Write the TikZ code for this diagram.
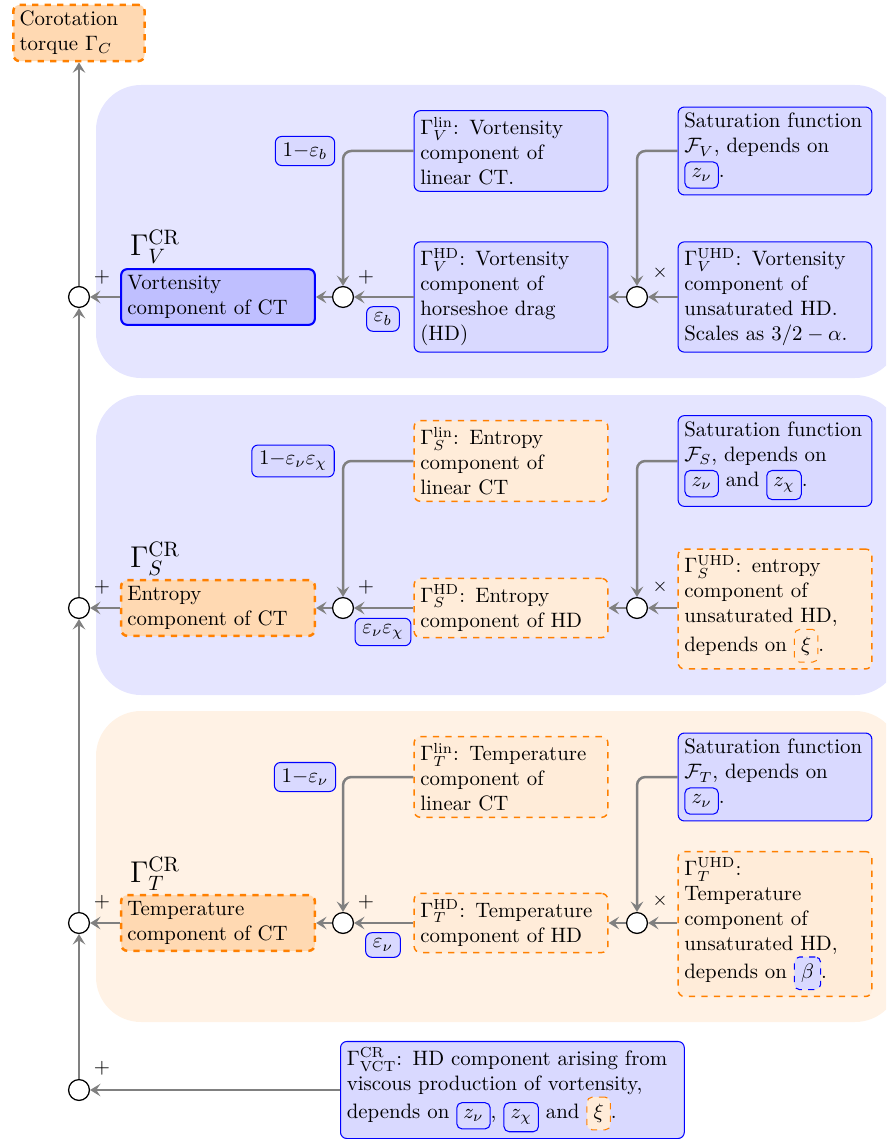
\documentclass[tikz,border=0pt]{standalone}
\usetikzlibrary{arrows.meta}
\newcommand{\inbx}[4]{\tikz[baseline=(ib.base)]\node[#3,draw=#1,fill=#2,line width=0.5pt,rounded corners=2.5pt,inner xsep=3.2pt,inner ysep=3.4pt,text width=,minimum width=0pt,minimum height=0pt,font=\normalsize](ib){$#4$};}
\newcommand{\znu}{\inbx{blue}{blue!15}{solid}{z_\nu}}
\newcommand{\zchi}{\inbx{blue}{blue!15}{solid}{z_\chi}}
\newcommand{\xib}{\inbx{orange}{orange!15}{dashed}{\xi}}
\newcommand{\betab}{\inbx{blue}{blue!15}{dashed}{\beta}}
\begin{document}
\begin{tikzpicture}[x=0.48pt,y=-0.48pt,
  conn/.style={draw=gray, line width=1.2pt, -{Stealth[length=5pt,width=6pt,inset=2pt]}, rounded corners=4pt},
  sumc/.style={circle, draw=black, fill=white, line width=0.6pt, minimum size=10pt, inner sep=0pt},
  bluebox/.style={draw=blue, fill=blue!15, line width=0.5pt, rounded corners=3pt, text width=87pt, inner sep=3pt, align=left},
  orbox/.style={draw=orange, dashed, fill=orange!15, line width=0.7pt, rounded corners=3pt, text width=87pt, inner sep=3pt, align=left},
  ctblue/.style={draw=blue, fill=blue!25, line width=1pt, rounded corners=3pt, text width=87pt, inner sep=3pt, align=left},
  ctorange/.style={draw=orange, dashed, fill=orange!30, line width=1.2pt, rounded corners=3pt, text width=87pt, inner sep=3pt, align=left},
  wbox/.style={draw=blue, fill=blue!15, line width=0.5pt, rounded corners=3pt, inner xsep=3.5pt, inner ysep=3pt},
  sgn/.style={inner sep=0pt},
  lbl/.style={font=\Large, inner sep=0pt}
]
\useasboundingbox (0,0) rectangle (886,1139);
\clip (0,0) rectangle (886,1139);

% panels
\fill[blue!10, rounded corners=21.6pt] (96,85) rectangle (900,378);
\fill[blue!10, rounded corners=21.6pt] (96,395) rectangle (900,695);
\fill[orange!10, rounded corners=21.6pt] (96,711) rectangle (900,1022);

% top box
\node[ctorange, text width=57pt] (corot) at (79,33) {Corotation\\torque $\Gamma_C$};

% summation circles on main line
\node[sumc] (c1a) at (79,297) {};
\node[sumc] (c2a) at (79,608) {};
\node[sumc] (c3a) at (79,923) {};
\node[sumc] (c4) at (79,1090) {};

% ---------- panel 1: vortensity
\node[lbl] (g1) at (155,247) {$\Gamma_V^{\mathrm{CR}}$};
\node[ctblue] (ct1) at (218,297) {Vortensity\\component of CT};
\node[sumc] (c1b) at (343,297) {};
\node[bluebox] (lin1) at (511,151) {$\Gamma_V^{\mathrm{lin}}$: Vortensity\\component of\\linear CT.};
\node[bluebox] (hd1) at (511,297) {$\Gamma_V^{\mathrm{HD}}$: Vortensity\\component of\\horseshoe drag\\(HD)};
\node[sumc] (c1c) at (637,297) {};
\node[bluebox] (sat1) at (775,151) {Saturation function\\$\mathcal{F}_V$, depends on\\\znu.};
\node[bluebox] (uhd1) at (775,297) {$\Gamma_V^{\mathrm{UHD}}$: Vortensity\\component of\\unsaturated HD.\\Scales as $3/2-\alpha$.};
\node[wbox] (w1a) at (305,151) {$1{-}\varepsilon_b$};
\node[wbox] (w1b) at (383,319) {$\varepsilon_b$};
\node[sgn] (p1a) at (102,277) {$+$};
\node[sgn] (p1b) at (366,277) {$+$};
\node[sgn, font=\small] (x1) at (660,273) {$\times$};

\draw[conn] (lin1.west) -| (c1b.north);
\draw[conn] (hd1.west) -- (c1b.east);
\draw[conn] (c1b.west) -- (ct1.east);
\draw[conn] (ct1.west) -- (c1a.east);
\draw[conn] (sat1.west) -| (c1c.north);
\draw[conn] (uhd1.west) -- (c1c.east);
\draw[conn] (c1c.west) -- (hd1.east);

% ---------- panel 2: entropy
\node[lbl] (g2) at (155,559) {$\Gamma_S^{\mathrm{CR}}$};
\node[ctorange] (ct2) at (218,608) {Entropy\\component of CT};
\node[sumc] (c2b) at (343,608) {};
\node[orbox] (lin2) at (511,461) {$\Gamma_S^{\mathrm{lin}}$: Entropy\\component of\\linear CT};
\node[orbox] (hd2) at (511,608) {$\Gamma_S^{\mathrm{HD}}$: Entropy\\component of HD};
\node[sumc] (c2c) at (637,608) {};
\node[bluebox] (sat2) at (775,461) {Saturation function\\$\mathcal{F}_S$, depends on\\\znu{} and \zchi.};
\node[orbox] (uhd2) at (775,609) {$\Gamma_S^{\mathrm{UHD}}$: entropy\\component of\\unsaturated HD,\\depends on \xib.};
\node[wbox] (w2a) at (293,461) {$1{-}\varepsilon_\nu\varepsilon_\chi$};
\node[wbox] (w2b) at (383,632) {$\varepsilon_\nu\varepsilon_\chi$};
\node[sgn] (p2a) at (102,587) {$+$};
\node[sgn] (p2b) at (366,587) {$+$};
\node[sgn, font=\small] (x2) at (660,587) {$\times$};

\draw[conn] (lin2.west) -| (c2b.north);
\draw[conn] (hd2.west) -- (c2b.east);
\draw[conn] (c2b.west) -- (ct2.east);
\draw[conn] (ct2.west) -- (c2a.east);
\draw[conn] (sat2.west) -| (c2c.north);
\draw[conn] (uhd2.west |- c2c) -- (c2c.east);
\draw[conn] (c2c.west) -- (hd2.east);

% ---------- panel 3: temperature
\node[lbl] (g3) at (155,874) {$\Gamma_T^{\mathrm{CR}}$};
\node[ctorange] (ct3) at (218,923) {Temperature\\component of CT};
\node[sumc] (c3b) at (343,923) {};
\node[orbox] (lin3) at (511,777) {$\Gamma_T^{\mathrm{lin}}$: Temperature\\component of\\linear CT};
\node[orbox] (hd3) at (511,923) {$\Gamma_T^{\mathrm{HD}}$: Temperature\\component of HD};
\node[sumc] (c3c) at (637,923) {};
\node[bluebox] (sat3) at (775,777) {Saturation function\\$\mathcal{F}_T$, depends on\\\znu.};
\node[orbox] (uhd3) at (775,924) {$\Gamma_T^{\mathrm{UHD}}$:\\Temperature\\component of\\unsaturated HD,\\depends on \betab.};
\node[wbox] (w3a) at (305,777) {$1{-}\varepsilon_\nu$};
\node[wbox] (w3b) at (383,945) {$\varepsilon_\nu$};
\node[sgn] (p3a) at (102,902) {$+$};
\node[sgn] (p3b) at (366,902) {$+$};
\node[sgn, font=\small] (x3) at (660,901) {$\times$};

\draw[conn] (lin3.west) -| (c3b.north);
\draw[conn] (hd3.west) -- (c3b.east);
\draw[conn] (c3b.west) -- (ct3.east);
\draw[conn] (ct3.west) -- (c3a.east);
\draw[conn] (sat3.west) -| (c3c.north);
\draw[conn] (uhd3.west |- c3c) -- (c3c.east);
\draw[conn] (c3c.west) -- (hd3.east);

% ---------- bottom: VCT
\node[bluebox, text width=159pt, anchor=west] (vct) at (340,1090) {$\Gamma_{\mathrm{VCT}}^{\mathrm{CR}}$: HD component arising from\\viscous production of vortensity,\\depends on \znu, \zchi{} and \xib.};
\node[sgn] (p4) at (102,1068) {$+$};
\draw[conn] (vct.west) -- (c4.east);

% main vertical line
\draw[conn] (c4.north) -- (c3a.south);
\draw[conn] (c3a.north) -- (c2a.south);
\draw[conn] (c2a.north) -- (c1a.south);
\draw[conn] (c1a.north) -- (corot.south);
\end{tikzpicture}
\end{document}
